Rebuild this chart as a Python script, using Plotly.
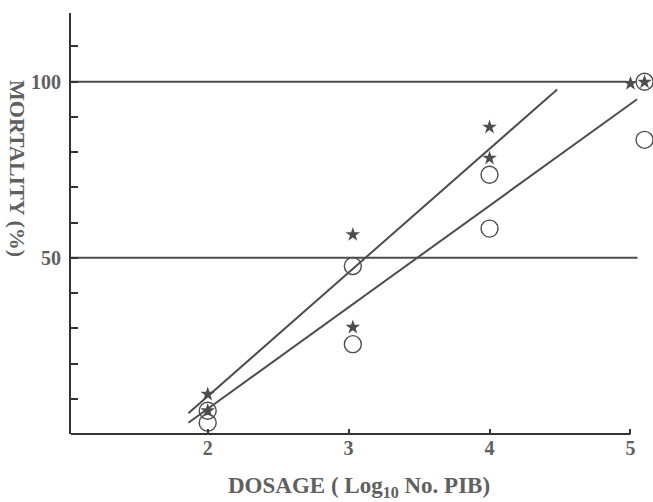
import plotly.graph_objects as go

# ---- data ----
star_dose = [2.0, 2.0, 3.03, 3.03, 4.0, 4.0, 5.0, 5.1]
star_mort = [11.3, 6.6, 56.6, 30.3, 87.1, 78.3, 99.5, 99.9]

circ_dose = [2.0, 2.0, 3.03, 3.03, 4.0, 4.0, 5.1, 5.1]
circ_mort = [6.6, 3.2, 47.7, 25.5, 73.6, 58.3, 100.0, 83.5]

fitA_dose = [1.863, 4.48]
fitA_mort = [5.9, 97.8]
fitB_dose = [1.863, 5.047]
fitB_mort = [3.2, 95.0]

x_ticks = [2, 3, 4, 5]
y_ticks = [50, 100]

XR = [1.03, 5.16]
YR = [0, 119.5]

INK = "#4d4d4d"
TXT = "#606060"
FONT = "Liberation Serif"

fig = go.Figure()

fig.add_trace(go.Scatter(x=fitA_dose, y=fitA_mort, mode="lines",
                         line=dict(color=INK, width=2), showlegend=False))
fig.add_trace(go.Scatter(x=fitB_dose, y=fitB_mort, mode="lines",
                         line=dict(color=INK, width=2), showlegend=False))
fig.add_trace(go.Scatter(x=circ_dose, y=circ_mort, mode="markers",
                         marker=dict(symbol="circle-open", size=17,
                                     line=dict(color=INK, width=1.4), color=INK),
                         cliponaxis=False, showlegend=False))
fig.add_trace(go.Scatter(x=star_dose, y=star_mort, mode="markers",
                         marker=dict(symbol="star", size=11, color=INK,
                                     line=dict(width=0)),
                         cliponaxis=False, showlegend=False))

# reference lines at 50 and 100
fig.add_shape(type="line", xref="x", yref="y", x0=XR[0], x1=4.98, y0=100, y1=100,
              line=dict(color=INK, width=2), layer="below")
fig.add_shape(type="line", xref="x", yref="y", x0=XR[0], x1=5.05, y0=50, y1=50,
              line=dict(color=INK, width=2), layer="below")
# x-axis baseline ending at 5
fig.add_shape(type="line", xref="x", yref="paper", x0=XR[0], x1=5.0, y0=0, y1=0,
              line=dict(color="#333333", width=2))

fig.update_layout(
    width=653, height=502,
    margin=dict(l=71, r=0, t=13, b=68),
    paper_bgcolor="white", plot_bgcolor="white",
    font=dict(family=FONT, color=TXT, size=19),
    xaxis=dict(range=XR, showgrid=False, zeroline=False, showline=False,
               tickmode="array", tickvals=x_ticks, ticktext=[str(v) for v in x_ticks],
               ticks="inside", ticklen=5, tickwidth=2, tickcolor="#333333",
               tickfont=dict(family=FONT, size=20, color=TXT, weight="bold")),
    yaxis=dict(range=YR, showgrid=False, zeroline=False, showline=True,
               linecolor="#333333", linewidth=2,
               tickmode="array", tickvals=y_ticks, ticktext=[str(v) for v in y_ticks],
               ticks="", ticklabelstandoff=4,
               tickfont=dict(family=FONT, size=20, color=TXT, weight="bold"),
               minor=dict(ticks="inside", dtick=10, tick0=0, ticklen=7,
                          tickwidth=2, tickcolor="#333333", showgrid=False)),
    annotations=[
        dict(text="DOSAGE ( Log<sub>10</sub> No. PIB)", xref="paper", yref="paper",
             x=(359 - 71) / 582, y=-(487 - 434) / 421, xanchor="center", yanchor="middle",
             showarrow=False, font=dict(family=FONT, size=23, color=TXT, weight="bold")),
        dict(text="MORTALITY (%)", xref="paper", yref="paper",
             x=-(71 - 18) / 582, y=(434 - 168) / 421, xanchor="center", yanchor="middle",
             textangle=90, showarrow=False,
             font=dict(family=FONT, size=22, color=TXT, weight="bold")),
    ],
)

fig.write_html("out.html", config={"displayModeBar": False},
               post_script="document.body.style.margin='0';document.body.style.overflow='hidden';")
